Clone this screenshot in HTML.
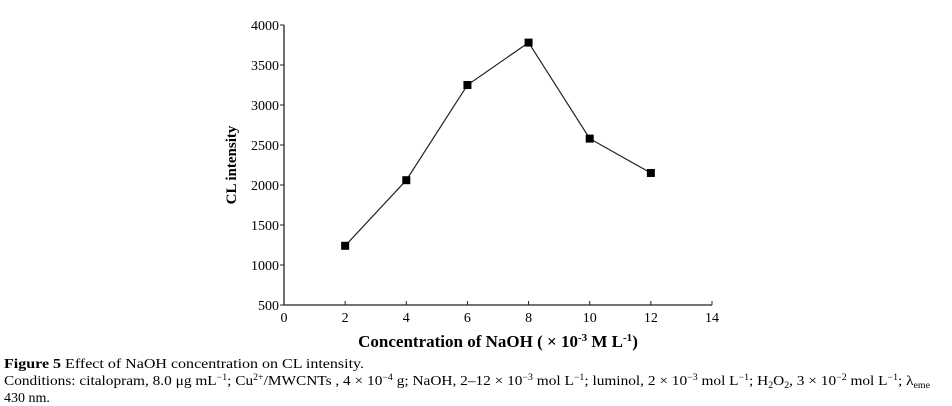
<!DOCTYPE html>
<html><head><meta charset="utf-8"><style>
body{margin:0;background:#fff;}
svg{display:block;font-family:"Liberation Serif",serif;}
</style></head><body>
<svg width="952" height="406" viewBox="0 0 952 406">
<g id="axes"></g>
<g id="marks"></g>
<text x="236" y="165" transform="rotate(-90 236 165)" text-anchor="middle" font-size="15" font-weight="bold">CL intensity</text>
<text x="498" y="347" text-anchor="middle" font-size="17" font-weight="bold">Concentration of NaOH ( × 10<tspan dy="-6" font-size="11">-3</tspan><tspan dy="6"> M L</tspan><tspan dy="-6" font-size="11">-1</tspan><tspan dy="6">)</tspan></text>
<text x="4" y="368" font-size="14" textLength="360" lengthAdjust="spacingAndGlyphs"><tspan font-weight="bold">Figure 5</tspan> Effect of NaOH concentration on CL intensity.</text>
<text x="4" y="385" font-size="14" textLength="926" lengthAdjust="spacingAndGlyphs">Conditions: citalopram, 8.0 μg mL<tspan dy="-5" font-size="9">−1</tspan><tspan dy="5">; Cu</tspan><tspan dy="-5" font-size="9">2+</tspan><tspan dy="5">/MWCNTs , 4 × 10</tspan><tspan dy="-5" font-size="9">−4</tspan><tspan dy="5"> g; NaOH, 2–12 × 10</tspan><tspan dy="-5" font-size="9">−3</tspan><tspan dy="5"> mol L</tspan><tspan dy="-5" font-size="9">−1</tspan><tspan dy="5">; luminol, 2 × 10</tspan><tspan dy="-5" font-size="9">−3</tspan><tspan dy="5"> mol L</tspan><tspan dy="-5" font-size="9">−1</tspan><tspan dy="5">; H</tspan><tspan dy="3" font-size="9">2</tspan><tspan dy="-3">O</tspan><tspan dy="3" font-size="9">2</tspan><tspan dy="-3">, 3 × 10</tspan><tspan dy="-5" font-size="9">−2</tspan><tspan dy="5"> mol L</tspan><tspan dy="-5" font-size="9">−1</tspan><tspan dy="5">; λ</tspan><tspan dy="3" font-size="9">eme</tspan></text>
<text x="4" y="402" font-size="14">430 nm.</text>
</svg>
<script>
const xValues=[2,4,6,8,10,12];
const yValues=[1240,2060,3250,3780,2580,2150];
const xTicks=[0,2,4,6,8,10,12,14];
const yTicks=[500,1000,1500,2000,2500,3000,3500,4000];
const NS="http://www.w3.org/2000/svg";
const X0=284,X1=712,Y0=305,Y1=25;
function sx(v){return X0+(v-0)/(14-0)*(X1-X0);}
function sy(v){return Y0-(v-500)/(4000-500)*(Y0-Y1);}
function mk(tag,attrs,parent){const e=document.createElementNS(NS,tag);for(const k in attrs)e.setAttribute(k,attrs[k]);parent.appendChild(e);return e;}
const ax=document.getElementById('axes');
let l=mk('line',{x1:X0,y1:Y1,x2:X0,y2:Y0,stroke:'#222','stroke-width':1.3},ax);


l=mk('line',{x1:X0,y1:Y0,x2:X1,y2:Y0,stroke:'#222','stroke-width':1.3},ax);


yTicks.forEach(v=>{
 const t=mk('line',{x1:X0-4,y1:sy(v),x2:X0,y2:sy(v),stroke:'#222','stroke-width':1},ax);
 
 
 const tx=mk('text',{x:X0-5,y:sy(v)+5,'text-anchor':'end','font-size':14},ax);
 tx.textContent=v;
 
 
});
xTicks.forEach(v=>{
 const t=mk('line',{x1:sx(v),y1:Y0-4,x2:sx(v),y2:Y0,stroke:'#222','stroke-width':1},ax);
 
 
 const tx=mk('text',{x:sx(v),y:Y0+17,'text-anchor':'middle','font-size':14},ax);
 tx.textContent=v;
 
 
});
const g=document.getElementById('marks');
const pts=xValues.map((x,i)=>sx(x)+','+sy(yValues[i])).join(' ');
const pl=mk('polyline',{points:pts,fill:'none',stroke:'#222','stroke-width':1.2},g);


xValues.forEach((x,i)=>{
 const r=mk('rect',{x:sx(x)-4,y:sy(yValues[i])-4,width:8,height:8,fill:'#000'},g);
 
 
});
</script>
</body></html>
